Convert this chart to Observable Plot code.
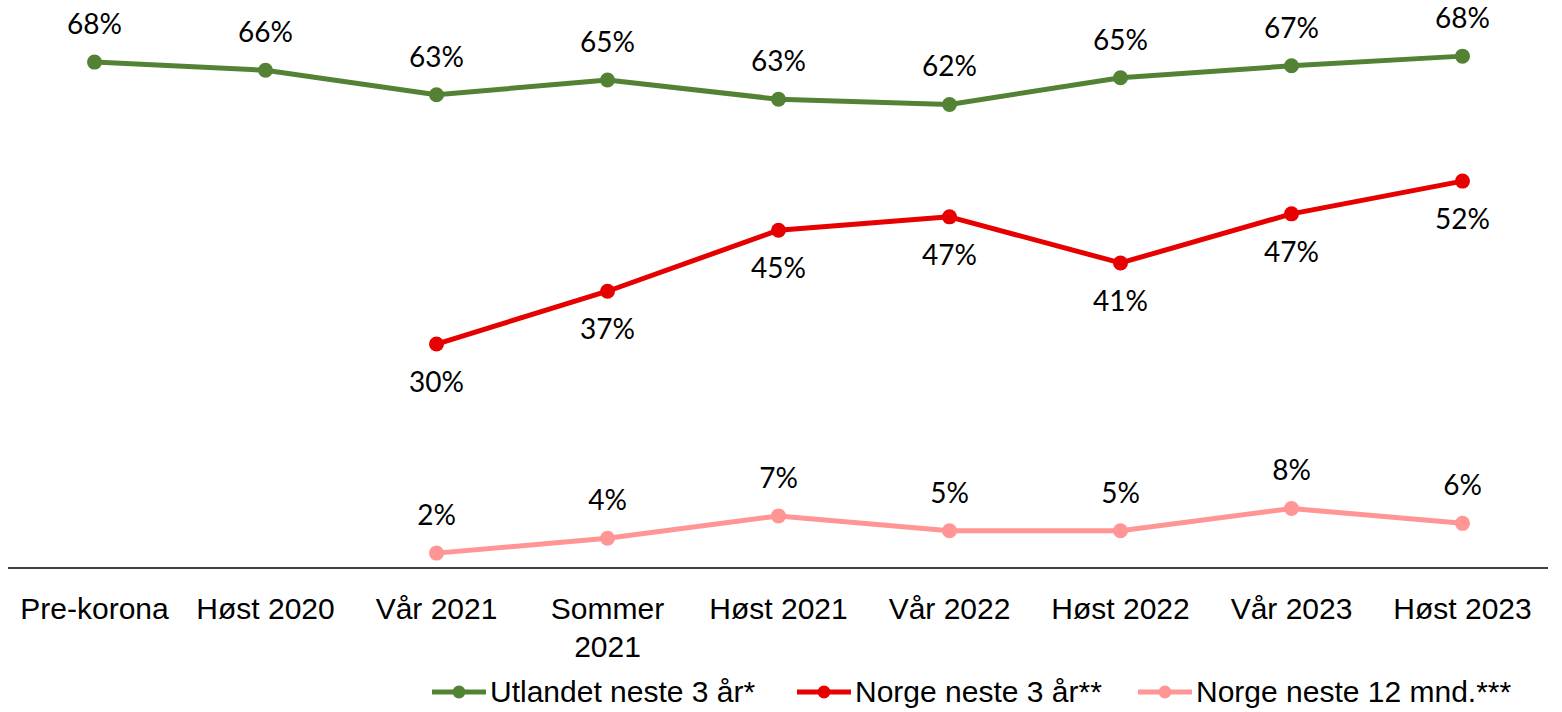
<!DOCTYPE html>
<html>
<head>
<meta charset="utf-8">
<script src="https://cdn.jsdelivr.net/npm/d3@7"></script>
<script src="https://cdn.jsdelivr.net/npm/@observablehq/plot@0.6"></script>
<style>
  html, body { margin: 0; padding: 0; background: #fff; }
  #chart svg { display: block; }
  #legend { position: relative; height: 40px; font-family: "Liberation Sans", Arial, sans-serif; font-size: 30px; color: #000; }
  .item { position: absolute; top: 0; height: 40px; display: flex; align-items: center; white-space: nowrap; }
  .item svg { margin-right: 4px; }
</style>
</head>
<body>
<div id="chart"></div>
<div id="legend"></div>
<script>
const categories = ["Pre-korona","Høst 2020","Vår 2021","Sommer 2021","Høst 2021","Vår 2022","Høst 2022","Vår 2023","Høst 2023"];
const tickLabels = ["Pre-korona","Høst 2020","Vår 2021","Sommer\n2021","Høst 2021","Vår 2022","Høst 2022","Vår 2023","Høst 2023"];
const seriesNames = ["Utlandet neste 3 år*","Norge neste 3 år**","Norge neste 12 mnd.***"];
const seriesColors = ["#548235","#E60000","#FF9595"];
const utlandet = [68.0, 66.9, 63.6, 65.6, 63.0, 62.3, 65.9, 67.5, 68.8];
const norge3 = [null, null, 30.1, 37.2, 45.4, 47.2, 41.0, 47.6, 52.0];
const norge12 = [null, null, 2.0, 4.0, 7.0, 5.0, 5.0, 8.0, 6.0];

const seriesValues = [utlandet, norge3, norge12];
const rows = [];
seriesNames.forEach((s, k) => {
  categories.forEach((c, i) => {
    const v = seriesValues[k][i];
    if (v != null) rows.push({cat: c, series: s, value: v});
  });
});
const fmt = v => Math.floor(v + 1e-9) + "%";
const labelDy = {"Utlandet neste 3 år*": -37, "Norge neste 3 år**": 39, "Norge neste 12 mnd.***": -37};

const H = 672;
const zeroY = 567.5;
const plot = Plot.plot({
  width: 1562,
  height: H,
  marginLeft: 8,
  marginRight: 14,
  marginTop: zeroY - 70 * 7.44,
  marginBottom: H - zeroY,
  style: {fontFamily: "'Liberation Sans', Arial, sans-serif", color: "#000", background: "#fff"},
  x: {type: "point", domain: categories, padding: 0.5},
  y: {domain: [0, 70], axis: null},
  color: {domain: seriesNames, range: seriesColors},
  marks: [
    Plot.axisX({tickSize: 0, tickPadding: 24, fontSize: 30, lineHeight: 1.27, label: null,
      tickFormat: c => tickLabels[categories.indexOf(c)]}),
    Plot.ruleY([0], {stroke: "#000", strokeWidth: 1.3}),
    Plot.line(rows, {x: "cat", y: "value", z: "series", stroke: "series", strokeWidth: 5}),
    Plot.dot(rows, {x: "cat", y: "value", fill: "series", r: 7.5}),
    ...seriesNames.map(s => Plot.text(rows.filter(d => d.series === s), {
      x: "cat", y: "value", text: d => fmt(d.value), dy: labelDy[s],
      fontFamily: "Lato, sans-serif", fontSize: 28, fill: "#000", lineAnchor: "middle"
    }))
  ]
});
document.getElementById("chart").appendChild(plot);

const legendLeft = [432, 797, 1138];
const legend = document.getElementById("legend");
seriesNames.forEach((s, k) => {
  const item = document.createElement("div");
  item.className = "item";
  item.style.left = legendLeft[k] + "px";
  item.innerHTML = `<svg width="54" height="16"><line x1="0" x2="54" y1="8" y2="8" stroke="${seriesColors[k]}" stroke-width="5"/><circle cx="27" cy="8" r="6.5" fill="${seriesColors[k]}"/></svg><span>${s}</span>`;
  legend.appendChild(item);
});
</script>
</body>
</html>
